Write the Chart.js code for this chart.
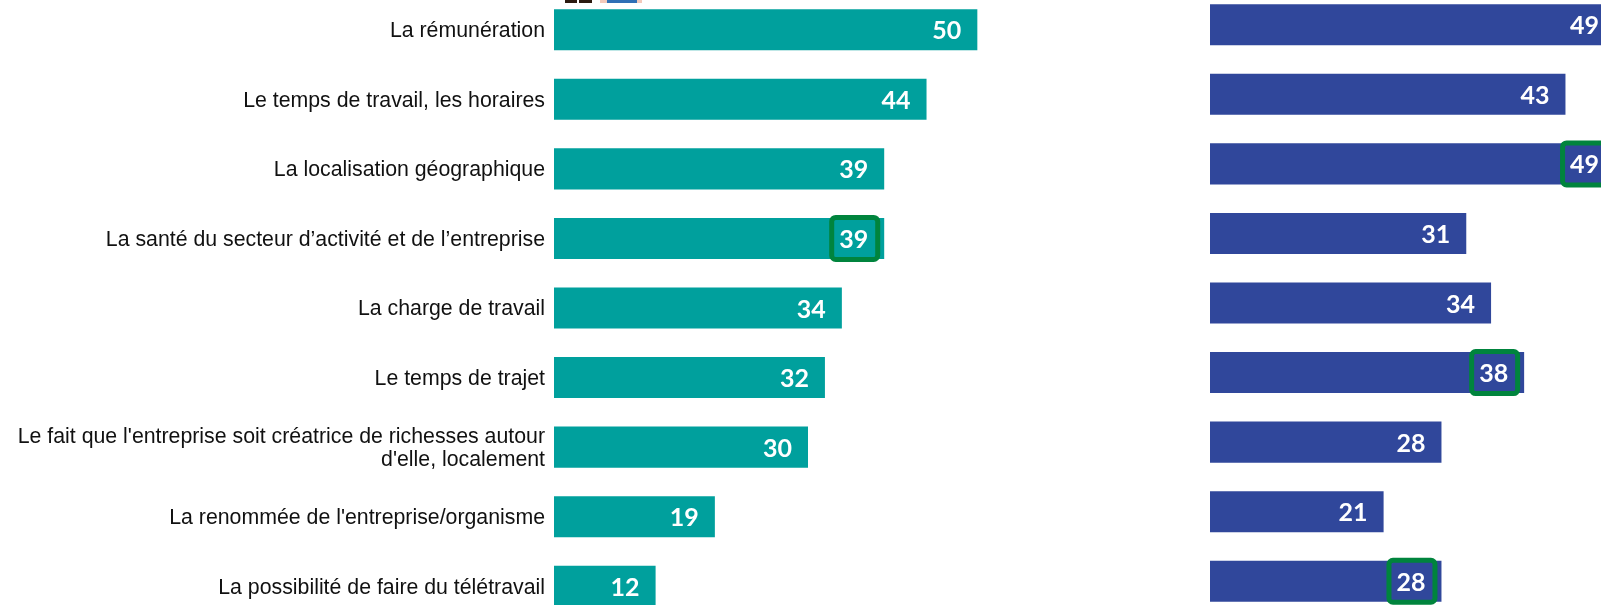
<!DOCTYPE html>
<html>
<head>
<meta charset="utf-8">
<script src="https://cdn.jsdelivr.net/npm/chart.js@4.4.1/dist/chart.umd.min.js"></script>
<style>
    html, body { margin: 0; padding: 0; width: 1601px; height: 605px; overflow: hidden; background: #fff; }
    body { position: relative; }
    .wrap { position: absolute; height: 626px; }
    #leftWrap { left: 0; top: -5px; width: 1062px; }
    #rightWrap { left: 1210px; top: -10px; width: 496px; }
    .icon { position: absolute; top: 0; height: 3px; }
</style>
</head>
<body>
<!-- bits of cropped legend icons at the top edge -->
<div class="icon" style="left:565px;width:12px;background:#2b1a10"></div>
<div class="icon" style="left:579px;width:13px;background:#2b1a10"></div>
<div class="icon" style="left:600px;width:42px;background:#f3c9bb"></div>
<div class="icon" style="left:607px;width:30px;background:#2f6fb5"></div>

<div class="wrap" id="leftWrap"><canvas id="leftChart"></canvas></div>
<div class="wrap" id="rightWrap"><canvas id="rightChart"></canvas></div>

<script>
const categories = [
    'La rémunération',
    'Le temps de travail, les horaires',
    'La localisation géographique',
    'La santé du secteur d’activité et de l’entreprise',
    'La charge de travail',
    'Le temps de trajet',
    ["Le fait que l'entreprise soit créatrice de richesses autour", "d'elle, localement"],
    "La renommée de l'entreprise/organisme",
    'La possibilité de faire du télétravail'
];
const leftValues = [50, 44, 39, 39, 34, 32, 30, 19, 12];
const rightValues = [49, 43, 49, 31, 34, 38, 28, 21, 28];
// rows whose value is framed in green
const leftHighlights = [3];
const rightHighlights = [2, 5, 8];

const valueLabels = {
    id: 'valueLabels',
    afterDatasetsDraw(chart, args, opts) {
        const ctx = chart.ctx;
        const meta = chart.getDatasetMeta(0);
        const values = chart.data.datasets[0].data;
        ctx.save();
        ctx.font = 'bold 25px Lato';
        ctx.fillStyle = '#ffffff';
        ctx.textAlign = 'right';
        ctx.textBaseline = 'alphabetic';
        meta.data.forEach((bar, i) => {
            ctx.fillText(String(values[i]), bar.x - 16, bar.y + 9.5);
            if (opts.boxes.includes(i)) {
                ctx.strokeStyle = '#00843d';
                ctx.lineWidth = 5;
                ctx.beginPath();
                ctx.roundRect(bar.x - 52.5, bar.y - 21, 46, 42, 4);
                ctx.stroke();
            }
        });
        ctx.restore();
    }
};

function makeChart(id, values, color, boxes, showLabels) {
    const ctx = document.getElementById(id).getContext('2d');
    return new Chart(ctx, {
        type: 'bar',
        data: {
            labels: categories,
            datasets: [{
                data: values,
                backgroundColor: color,
                borderWidth: 0,
                categoryPercentage: 1,
                barPercentage: 0.59
            }]
        },
        options: {
            indexAxis: 'y',
            responsive: true,
            maintainAspectRatio: false,
            animation: false,
            devicePixelRatio: 1,
            layout: { padding: 0 },
            plugins: {
                legend: { display: false },
                tooltip: { enabled: false },
                valueLabels: { boxes: boxes }
            },
            scales: {
                x: {
                    display: false,
                    min: 0,
                    max: 60
                },
                y: {
                    display: showLabels,
                    grid: { display: false, drawTicks: false },
                    border: { display: false },
                    ticks: {
                        padding: 9,
                        labelOffset: 1.5,
                        color: '#111111',
                        font: { family: '"Liberation Sans", Arial, sans-serif', size: 21.3, lineHeight: 1.1 }
                    },
                    afterFit: (scale) => {
                        if (!showLabels) return;
                        scale.width = 554;
                        scale.paddingTop = 0;
                        scale.paddingBottom = 0;
                    }
                }
            }
        },
        plugins: [valueLabels]
    });
}

makeChart('leftChart', leftValues, '#00a09d', leftHighlights, true);
makeChart('rightChart', rightValues, '#30479b', rightHighlights, false);
</script>
</body>
</html>
